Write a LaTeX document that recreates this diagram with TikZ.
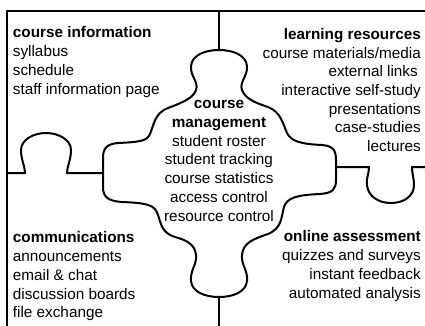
\documentclass[tikz,border=0pt]{standalone}
\usepackage{fontspec}
\setmainfont{Liberation Sans}
\usepackage{tikz}
\usetikzlibrary{positioning}

\begin{document}
\begin{tikzpicture}[
    x=1pt, y=-1pt,
    edge/.style={
        line width=2pt,
        line join=round
    },
    block/.style={
        inner sep=0pt,
        font=\fontsize{15.3}{18.7}\selectfont
    },
    leftblock/.style={
        block,
        align=left,
        anchor=base west
    },
    rightblock/.style={
        block,
        align=right,
        anchor=base east
    }
]
    \useasboundingbox (0,0) rectangle (425,325);

    % Outer frame
    \draw[edge] (7,330) -- (7,11) -- (430,11);

    % Top and bottom dividers
    \draw[edge] (219,11) -- (219,50);
    \draw[edge] (219,297) -- (219,330);

    % Left divider with knob
    \draw[edge] (7,173) -- (25,173)
        .. controls (25,166) and (21,160) .. (21,150)
        .. controls (21,140) and (33,133) .. (46,133)
        .. controls (59,133) and (71,140) .. (71,150)
        .. controls (71,160) and (67,166) .. (67,173) -- (103,173);

    % Right divider with knob
    \draw[edge] (336,167) -- (369,167)
        .. controls (369,174) and (366,178) .. (367,185)
        .. controls (368,196) and (378,203) .. (391,203)
        .. controls (404,203) and (414,196) .. (414,185)
        .. controls (414,178) and (412,174) .. (412,167) -- (430,167);

    % Centre piece
    \draw[edge] (196,90)
        .. controls (199,82) and (190,76) .. (191,66)
        .. controls (192,55) and (205,50) .. (219,50)
        .. controls (233,50) and (246,55) .. (247,66)
        .. controls (248,76) and (239,82) .. (242,90)
        .. controls (245,98) and (253,102) .. (268,107)
        .. controls (281,112) and (283,124) .. (287,133)
        .. controls (291,141) and (300,144) .. (322,145)
        .. controls (333,146) and (336,150) .. (336,160)
        -- (336,180)
        .. controls (336,190) and (332,193) .. (320,194)
        .. controls (296,195) and (287,198) .. (284,207)
        .. controls (281,218) and (282,228) .. (268,234)
        .. controls (253,239) and (243,243) .. (242,255)
        .. controls (241,265) and (248,270) .. (247,281)
        .. controls (246,292) and (233,297) .. (219,297)
        .. controls (205,297) and (192,292) .. (191,281)
        .. controls (190,270) and (197,265) .. (196,255)
        .. controls (195,244) and (186,240) .. (175,237)
        .. controls (162,233) and (161,224) .. (158,215)
        .. controls (155,205) and (148,203) .. (122,202)
        .. controls (108,201) and (103,197) .. (103,187)
        -- (103,158)
        .. controls (103,148) and (107,144) .. (118,143)
        .. controls (140,142) and (147,141) .. (150,134)
        .. controls (154,124) and (155,113) .. (168,108)
        .. controls (184,102) and (193,98) .. (196,90)
        -- cycle;

    % Text blocks (placed at the baseline of their last line)
    \node[leftblock] (info) at (12.7,94) {\textbf{course information}\\syllabus\\schedule\\staff information page};
    \node[rightblock] (resources) at (421,151.5) {\textbf{learning resources}\\course materials/media\\external links\kern3pt\\interactive self-study\\presentations\\case-studies\\lectures};
    \node[block, align=center, anchor=base] (manage) at (219,221) {\textbf{course}\\\textbf{management}\\student roster\\student tracking\\course statistics\\access control\\resource control};
    \node[leftblock] (comms) at (12.7,317.7) {\textbf{communications}\\announcements\\email \& chat\\discussion boards\\file exchange};
    \node[rightblock] (assess) at (421,298) {\textbf{online assessment}\\quizzes and surveys\\instant feedback\\automated analysis};

\end{tikzpicture}
\end{document}
